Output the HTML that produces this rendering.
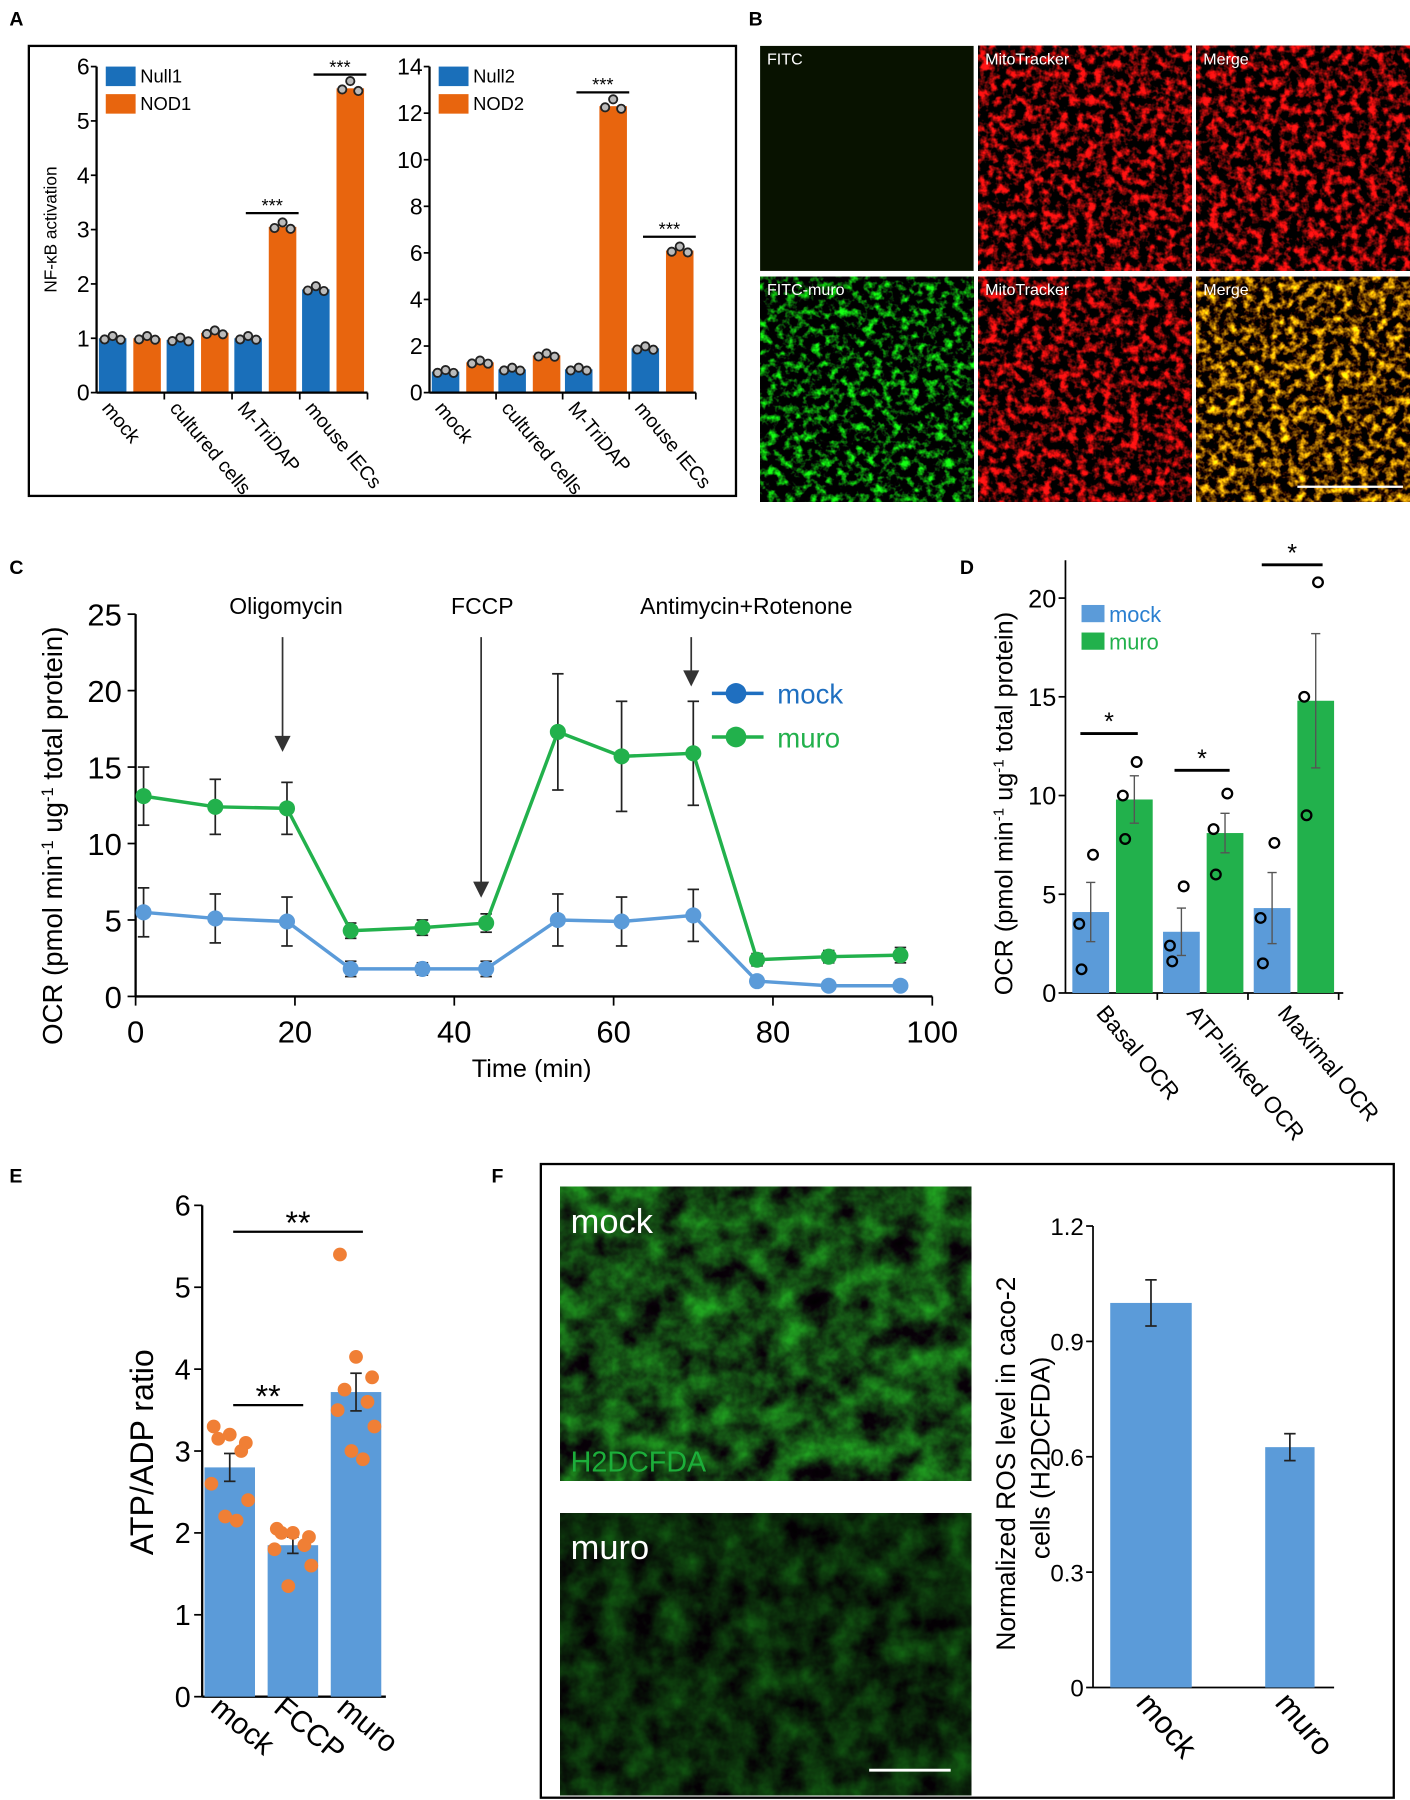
<!DOCTYPE html>
<html><head><meta charset="utf-8">
<style>
html,body{margin:0;padding:0;background:#fff;}
svg{display:block;font-family:"Liberation Sans",Arial,sans-serif;}
filter{color-interpolation-filters:sRGB;}
</style></head>
<body>
<svg id="fig" width="1410" height="1800" viewBox="0 0 1228 1568" xmlns="http://www.w3.org/2000/svg">
<defs>
<filter id="texRed" x="0" y="0" width="100%" height="100%" color-interpolation-filters="sRGB">
<feTurbulence type="fractalNoise" baseFrequency="0.13" numOctaves="3" seed="3"/>
<feColorMatrix type="matrix" values="3.4 0 0 0 -1.45  0.2 0 0 0 -0.08  0.2 0 0 0 -0.08  0 0 0 0 1"/>
</filter>
<filter id="texGreen" x="0" y="0" width="100%" height="100%" color-interpolation-filters="sRGB">
<feTurbulence type="fractalNoise" baseFrequency="0.13" numOctaves="3" seed="7"/>
<feColorMatrix type="matrix" values="0.2 0 0 0 -0.08  3.2 0 0 0 -1.5  0.2 0 0 0 -0.08  0 0 0 0 1"/>
</filter>
<filter id="texYellow" x="0" y="0" width="100%" height="100%" color-interpolation-filters="sRGB">
<feTurbulence type="fractalNoise" baseFrequency="0.13" numOctaves="3" seed="5"/>
<feColorMatrix type="matrix" values="3.2 0 0 0 -1.3  2.6 0 0 0 -1.15  0.1 0 0 0 -0.05  0 0 0 0 1"/>
</filter>
<filter id="texSoftG" x="0" y="0" width="100%" height="100%" color-interpolation-filters="sRGB">
<feTurbulence type="fractalNoise" baseFrequency="0.04" numOctaves="4" seed="11"/>
<feColorMatrix type="matrix" values="0.15 0 0 0 0  1.0 0 0 0 -0.22  0.15 0 0 0 0  0 0 0 0 1"/>
</filter>
<filter id="texDarkG" x="0" y="0" width="100%" height="100%" color-interpolation-filters="sRGB">
<feTurbulence type="fractalNoise" baseFrequency="0.04" numOctaves="4" seed="13"/>
<feColorMatrix type="matrix" values="0.08 0 0 0 0  0.55 0 0 0 -0.12  0.08 0 0 0 0  0 0 0 0 1"/>
</filter>
</defs>
<g id="root"></g>
</svg>
<script>
// ---------- Panel A data ----------
const aCats = ["mock","cultured cells","M-TriDAP","mouse IECs"];
const aNull1 = [1.0, 0.97, 1.0, 1.9];
const aNod1 = [1.0, 1.1, 3.05, 5.6];
const aNull2 = [0.9, 1.0, 1.0, 1.9];
const aNod2 = [1.3, 1.6, 12.3, 6.1];
const aTicks1 = [0,1,2,3,4,5,6];
const aTicks2 = [0,2,4,6,8,10,12,14];
// ---------- Panel C data ----------
const cTime = [1,10,19,27,36,44,53,61,70,78,87,96];
const cMock = [5.5,5.1,4.9,1.8,1.8,1.8,5.0,4.9,5.3,1.0,0.7,0.7];
const cMockErr = [1.6,1.6,1.6,0.5,0.4,0.5,1.7,1.6,1.7,0.3,0.2,0.2];
const cMuro = [13.1,12.4,12.3,4.3,4.5,4.8,17.3,15.7,15.9,2.4,2.6,2.7];
const cMuroErr = [1.9,1.8,1.7,0.5,0.5,0.6,3.8,3.6,3.4,0.4,0.4,0.5];
const cXTicks = [0,20,40,60,80,100];
const cYTicks = [0,5,10,15,20,25];
// ---------- Panel D data ----------
const dCats = ["Basal OCR","ATP-linked OCR","Maximal OCR"];
const dMock = [4.1,3.1,4.3];
const dMockErr = [1.5,1.2,1.8];
const dMuro = [9.8,8.1,14.8];
const dMuroErr = [1.2,1.0,3.4];
const dMockPts = [[7.0,3.5,1.2],[5.4,2.4,1.6],[7.6,3.8,1.5]];
const dMuroPts = [[11.7,10.0,7.8],[10.1,8.3,6.0],[20.8,15.0,9.0]];
const dTicks = [0,5,10,15,20];
// ---------- Panel E data ----------
const eCats = ["mock","FCCP","muro"];
const eVals = [2.8,1.85,3.72];
const eErr = [0.17,0.1,0.23];
const ePts = [[3.3,3.2,3.1,3.15,3.0,2.6,2.4,2.2,2.15],[2.05,2.0,1.95,2.0,1.85,1.8,1.6,1.35],[5.4,4.15,3.9,3.75,3.6,3.5,3.3,3.0,2.9]];
const eTicks = [0,1,2,3,4,5,6];
// ---------- Panel F data ----------
const fCats = ["mock","muro"];
const fVals = [1.0,0.625];
const fErr = [0.06,0.035];
const fTicks = [0,0.3,0.6,0.9,1.2];

const NS="http://www.w3.org/2000/svg";
const root=document.getElementById('root');
function el(tag,attrs,parent,text){const e=document.createElementNS(NS,tag);for(const k in attrs)e.setAttribute(k,attrs[k]);if(text!==undefined)e.textContent=text;(parent||root).appendChild(e);return e;}
function line(x1,y1,x2,y2,stroke,w,p){return el('line',{x1,y1,x2,y2,stroke,'stroke-width':w},p);}

const BLUE="#1a6fba", ORANGE="#e8650e", LBLUE="#5b9bd9", GREEN="#1db34a", LGREEN="#22b14c";

[["A",8,22],["B",652,22],["C",8,500],["D",836,500],["E",8,1030],["F",428,1030]].forEach(l=>{
  const t=el('text',{x:l[1],y:l[2],'font-size':17,'font-weight':'bold',fill:'#000'},root,l[0]);
  
  
});

// ===== Panel A =====
const gA=el('g',{});


const boxA=el('rect',{x:25,y:40,width:616,height:392,fill:'none',stroke:'#000','stroke-width':2},gA);


function drawA(axisX,y0,ymax,ticks,nulls,nods,legA,legB,step,sigIdx){
  const yTop=58, yS=v=>y0-(y0-yTop)*v/ymax;
  const g=el('g',{},gA);
  
  
  const bw=24;
  for(let i=0;i<nulls.length;i++){
    const gx=axisX+2+i*step;
    [[nulls[i],BLUE,gx],[nods[i],ORANGE,gx+30]].forEach((b,j)=>{
      const r=el('rect',{x:b[2],y:yS(b[0]),width:bw,height:y0-yS(b[0]),fill:b[1]},g);
      
      
      [-7,0,7].forEach((dx,k)=>{
        const v=b[0]*(1+[0.0,0.02,-0.005][k]);
        const c=el('circle',{cx:b[2]+bw/2+dx,cy:yS(v)+(k==1?-1:1),r:3.6,fill:'#bbb',stroke:'#222','stroke-width':1.6},g);
        
        
      });
    });
    line(gx-2+step,y0,gx-2+step,y0+6,'#000',1.5,g);
    const tl=el('text',{x:0,y:0,'font-size':17,fill:'#000',transform:`translate(${gx+2},${y0+14}) rotate(50)`},g,aCats[i]);
    
    
  }
  line(axisX,y0,axisX+step*4,y0,'#000',2,g);
  line(axisX,yTop,axisX,y0,'#000',2,g);
  ticks.forEach(t=>{
    line(axisX-5,yS(t),axisX,yS(t),'#000',1.5,g);
    const tt=el('text',{x:axisX-6,y:yS(t)+7,'font-size':20,'text-anchor':'end',fill:'#000'},g,t);
    
    
  });
  [[legA,BLUE,58],[legB,ORANGE,82]].forEach(L=>{
    const r=el('rect',{x:axisX+8,y:L[2],width:26,height:17,fill:L[1]},g);
    
    
    const t=el('text',{x:axisX+38,y:L[2]+14,'font-size':16,fill:'#000'},g,L[0]);
    
    
  });
  sigIdx.forEach(i=>{
    const gx=axisX+2+i*step;
    const yy=yS(nods[i])-12;
    line(gx+10,yy,gx+56,yy,'#000',2,g);
    const s=el('text',{x:gx+33,y:yy-1,'font-size':16,'text-anchor':'middle',fill:'#000'},g,'***');
    
    
  });
}
drawA(84,342,6,aTicks1,aNull1,aNod1,"Null1","NOD1",59,[2,3]);
drawA(374,342,14,aTicks2,aNull2,aNod2,"Null2","NOD2",58,[2,3]);
const aY=el('text',{x:0,y:0,'font-size':15,'text-anchor':'middle',fill:'#000',transform:'translate(49,200) rotate(-90)'},gA,'NF-κB activation');



// ===== Panel B =====
const gB=el('g',{});


const bCols=[662,852,1042], bRows=[40,241];
const bLabels=[["FITC","MitoTracker","Merge"],["FITC-muro","MitoTracker","Merge"]];
const bFilters=[[null,'texRed','texRed'],['texGreen','texRed','texYellow']];
bRows.forEach((ry,r)=>bCols.forEach((cx,c)=>{
  const bg=el('rect',{x:cx,y:ry,width:186,height:196,fill:r==0&&c==0?'#081200':'#000'},gB);
  
  
  const f=bFilters[r][c];
  if(f){el('rect',{x:cx,y:ry,width:186,height:196,filter:`url(#${f})`},gB);}
  const t=el('text',{x:cx+6,y:ry+16,'font-size':14,fill:'#fff'},gB,bLabels[r][c]);
  
  
}));
line(1130,424,1222,424,'#fff',2,gB);

// ===== Panel C =====
const gC=el('g',{});


const cx0=118,cx1=812,cy0=868,cyTop=535;
const cX=v=>cx0+(cx1-cx0)*v/100, cY=v=>cy0-(cy0-cyTop)*v/25;
line(cx0,cy0,cx1,cy0,'#000',2,gC);
line(cx0,cyTop,cx0,cy0,'#000',2,gC);
cXTicks.forEach(t=>{line(cX(t),cy0,cX(t),cy0+8,'#000',1.5,gC);
  const tt=el('text',{x:cX(t),y:cy0+40,'font-size':27,'text-anchor':'middle',fill:'#000'},gC,t);
  
  });
cYTicks.forEach(t=>{line(cx0-7,cY(t),cx0,cY(t),'#000',1.5,gC);
  const tt=el('text',{x:cx0-12,y:cY(t)+10,'font-size':27,'text-anchor':'end',fill:'#000'},gC,t);
  
  });
function series(vals,err,color,name){
  const g=el('g',{},gC);
  
  
  vals.forEach((v,i)=>{const x=cX(cTime[i]);
    line(x,cY(v-err[i]),x,cY(v+err[i]),'#222',1.5,g);
    line(x-5,cY(v-err[i]),x+5,cY(v-err[i]),'#222',1.5,g);
    line(x-5,cY(v+err[i]),x+5,cY(v+err[i]),'#222',1.5,g);});
  const p=el('polyline',{points:vals.map((v,i)=>cX(cTime[i])+','+cY(v)).join(' '),fill:'none',stroke:color,'stroke-width':3},g);
  
  
  vals.forEach((v,i)=>{const c=el('circle',{cx:cX(cTime[i]),cy:cY(v),r:7,fill:color},g);
    
    });
}
series(cMock,cMockErr,LBLUE,'mock');
series(cMuro,cMuroErr,LGREEN,'muro');
[["Oligomycin",246,655,249],["FCCP",419,782,420],["Antimycin+Rotenone",602,598,650]].forEach(a=>{
  line(a[1],555,a[1],a[2]-12,'#333',1.5,gC);
  el('polygon',{points:`${a[1]-7},${a[2]-14} ${a[1]+7},${a[2]-14} ${a[1]},${a[2]}`,fill:'#333'},gC);
  const t=el('text',{x:a[3],y:535,'font-size':20,'text-anchor':'middle',fill:'#000'},gC,a[0]);
  
  
});
[["mock",604,"#1f6fc0"],["muro",642,LGREEN]].forEach(L=>{
  line(620,L[1],665,L[1],L[2],3,gC);
  el('circle',{cx:641,cy:L[1],r:9,fill:L[2]},gC);
  const t=el('text',{x:677,y:L[1]+9,'font-size':24,fill:L[2]},gC,L[0]);
  
  
});
const cXt=el('text',{x:463,y:938,'font-size':22,'text-anchor':'middle',fill:'#000'},gC,'Time (min)');


function ocrTitle(x,y,fs,g){
  const t=el('text',{x:0,y:0,'font-size':fs,'text-anchor':'middle',fill:'#000',transform:`translate(${x},${y}) rotate(-90)`},g);
  
  
  t.innerHTML='OCR (pmol min<tspan dy="-8" font-size="'+(fs*0.6)+'">-1</tspan><tspan dy="8"> ug</tspan><tspan dy="-8" font-size="'+(fs*0.6)+'">-1</tspan><tspan dy="8"> total protein)</tspan>';
}
ocrTitle(54,728,24,gC);

// ===== Panel D =====
const gD=el('g',{});


const dx0=928,dy0=865,dyTop=521;
const dY=v=>dy0-(dy0-dyTop)*v/20;
line(dx0,488,dx0,dy0,'#000',1.5,gD);
line(dx0,dy0,1170,dy0,'#000',1.5,gD);
dTicks.forEach(t=>{line(dx0-6,dY(t),dx0,dY(t),'#000',1.5,gD);
  const tt=el('text',{x:dx0-8,y:dY(t)+8,'font-size':22,'text-anchor':'end',fill:'#000'},gD,t);
  
  });
dCats.forEach((c,i)=>{
  const gx=934+i*79;
  [[dMock[i],dMockErr[i],dMockPts[i],LBLUE,gx,'mock'],[dMuro[i],dMuroErr[i],dMuroPts[i],LGREEN,gx+38,'muro']].forEach(b=>{
    const r=el('rect',{x:b[4],y:dY(b[0]),width:32,height:dy0-dY(b[0]),fill:b[3]},gD);
    
    
    const cx=b[4]+16;
    line(cx,dY(b[0]-b[1]),cx,dY(b[0]+b[1]),'#555',1.2,gD);
    line(cx-4,dY(b[0]-b[1]),cx+4,dY(b[0]-b[1]),'#555',1.2,gD);
    line(cx-4,dY(b[0]+b[1]),cx+4,dY(b[0]+b[1]),'#555',1.2,gD);
    b[2].forEach((v,k)=>{const p=el('circle',{cx:cx+[2,-10,-8][k],cy:dY(v),r:4.2,fill:'none',stroke:'#000','stroke-width':2},gD);
      
      });
  });
  line(gx+74,dy0,gx+74,dy0+6,'#000',1.5,gD);
  const t=el('text',{x:0,y:0,'font-size':20,fill:'#000',transform:`translate(${gx+20},${dy0+18}) rotate(50)`},gD,c);
  
  
});
[[941,991,639],[1023,1071,671],[1099,1152,492]].forEach(s=>{
  line(s[0],s[2],s[1],s[2],'#000',2.5,gD);
  const t=el('text',{x:(s[0]+s[1])/2,y:s[2]-3,'font-size':22,'text-anchor':'middle',fill:'#000'},gD,'*');
  
  
});
[["mock",527,LBLUE,"#2a7fd0"],["muro",551,LGREEN,LGREEN]].forEach(L=>{
  el('rect',{x:942,y:L[1],width:20,height:15,fill:L[2]},gD);
  const t=el('text',{x:966,y:L[1]+15,'font-size':19,fill:L[3]},gD,L[0]);
  
  
});
ocrTitle(882,700,22,gD);

// ===== Panel E =====
const gE=el('g',{});


const ex0=176,ey0=1478,eyTop=1050;
const eY=v=>ey0-(ey0-eyTop)*v/6;
line(ex0,eyTop,ex0,ey0,'#000',2,gE);
line(ex0,ey0,336,ey0,'#000',2,gE);
eTicks.forEach(t=>{line(ex0-7,eY(t),ex0,eY(t),'#000',1.5,gE);
  const tt=el('text',{x:ex0-10,y:eY(t)+9,'font-size':25,'text-anchor':'end',fill:'#000'},gE,t);
  
  });
eCats.forEach((c,i)=>{
  const bx=178+i*55;
  const r=el('rect',{x:bx,y:eY(eVals[i]),width:44,height:ey0-eY(eVals[i]),fill:LBLUE},gE);
  
  
  const cx=bx+22;
  line(cx,eY(eVals[i]-eErr[i]),cx,eY(eVals[i]+eErr[i]),'#222',1.5,gE);
  line(cx-5,eY(eVals[i]-eErr[i]),cx+5,eY(eVals[i]-eErr[i]),'#222',1.5,gE);
  line(cx-5,eY(eVals[i]+eErr[i]),cx+5,eY(eVals[i]+eErr[i]),'#222',1.5,gE);
  const offs=[-14,0,14,-10,10,-16,16,-4,6];
  ePts[i].forEach((v,k)=>{const p=el('circle',{cx:cx+offs[k%offs.length],cy:eY(v),r:6,fill:'#f07f35'},gE);
    
    });
  const t=el('text',{x:0,y:0,'font-size':26,fill:'#000',transform:`translate(${cx-18},${ey0+12}) rotate(40)`},gE,c);
  
  
});
[[203,316,1073],[203,264,1224]].forEach(s=>{
  line(s[0],s[2],s[1],s[2],'#000',2,gE);
  const t=el('text',{x:(s[0]+s[1])/2,y:s[2]+2,'font-size':28,'text-anchor':'middle',fill:'#000'},gE,'**');
  
  
});
const eYt=el('text',{x:0,y:0,'font-size':28,'text-anchor':'middle',fill:'#000',transform:'translate(133,1265) rotate(-90)'},gE,'ATP/ADP ratio');



// ===== Panel F =====
const gF=el('g',{});


const boxF=el('rect',{x:471,y:1014,width:743,height:552,fill:'none',stroke:'#000','stroke-width':2},gF);


[[1034,256,'texSoftG','mock'],[1318,246,'texDarkG','muro']].forEach(im=>{
  const b=el('rect',{x:488,y:im[0],width:358,height:im[1],fill:'#000'},gF);
  
  
  el('rect',{x:488,y:im[0],width:358,height:im[1],filter:`url(#${im[2]})`},gF);
  const t=el('text',{x:497,y:im[0]+40,'font-size':30,fill:'#fff'},gF,im[3]);
  
  
});
const h2=el('text',{x:497,y:1282,'font-size':25,fill:'#1cae3a'},gF,'H2DCFDA');


line(757,1542,828,1542,'#fff',2.5,gF);
const fx0=952,fy0=1470,fyTop=1068;
const fY=v=>fy0-(fy0-fyTop)*v/1.2;
line(fx0,fyTop,fx0,fy0,'#000',1.5,gF);
line(fx0,fy0,1162,fy0,'#000',1.5,gF);
fTicks.forEach(t=>{line(fx0-6,fY(t),fx0,fY(t),'#000',1.5,gF);
  const tt=el('text',{x:fx0-8,y:fY(t)+8,'font-size':21,'text-anchor':'end',fill:'#000'},gF,t===0?'0':t.toFixed(1));
  
  });
[[967,71],[1102,43]].forEach((b,i)=>{
  const r=el('rect',{x:b[0],y:fY(fVals[i]),width:b[1],height:fy0-fY(fVals[i]),fill:LBLUE},gF);
  
  
  const cx=b[0]+b[1]/2;
  line(cx,fY(fVals[i]-fErr[i]),cx,fY(fVals[i]+fErr[i]),'#222',1.5,gF);
  line(cx-5,fY(fVals[i]-fErr[i]),cx+5,fY(fVals[i]-fErr[i]),'#222',1.5,gF);
  line(cx-5,fY(fVals[i]+fErr[i]),cx+5,fY(fVals[i]+fErr[i]),'#222',1.5,gF);
  const t=el('text',{x:0,y:0,'font-size':27,fill:'#000',transform:`translate(${cx-14},${fy0+14}) rotate(50)`},gF,fCats[i]);
  
  
});
const fy1=el('text',{x:0,y:0,'font-size':23,'text-anchor':'middle',fill:'#000',transform:'translate(884,1275) rotate(-90)'},gF,'Normalized ROS level in caco-2');


const fy2=el('text',{x:0,y:0,'font-size':23,'text-anchor':'middle',fill:'#000',transform:'translate(914,1270) rotate(-90)'},gF,'cells (H2DCFDA)');


</script>
</body></html>
